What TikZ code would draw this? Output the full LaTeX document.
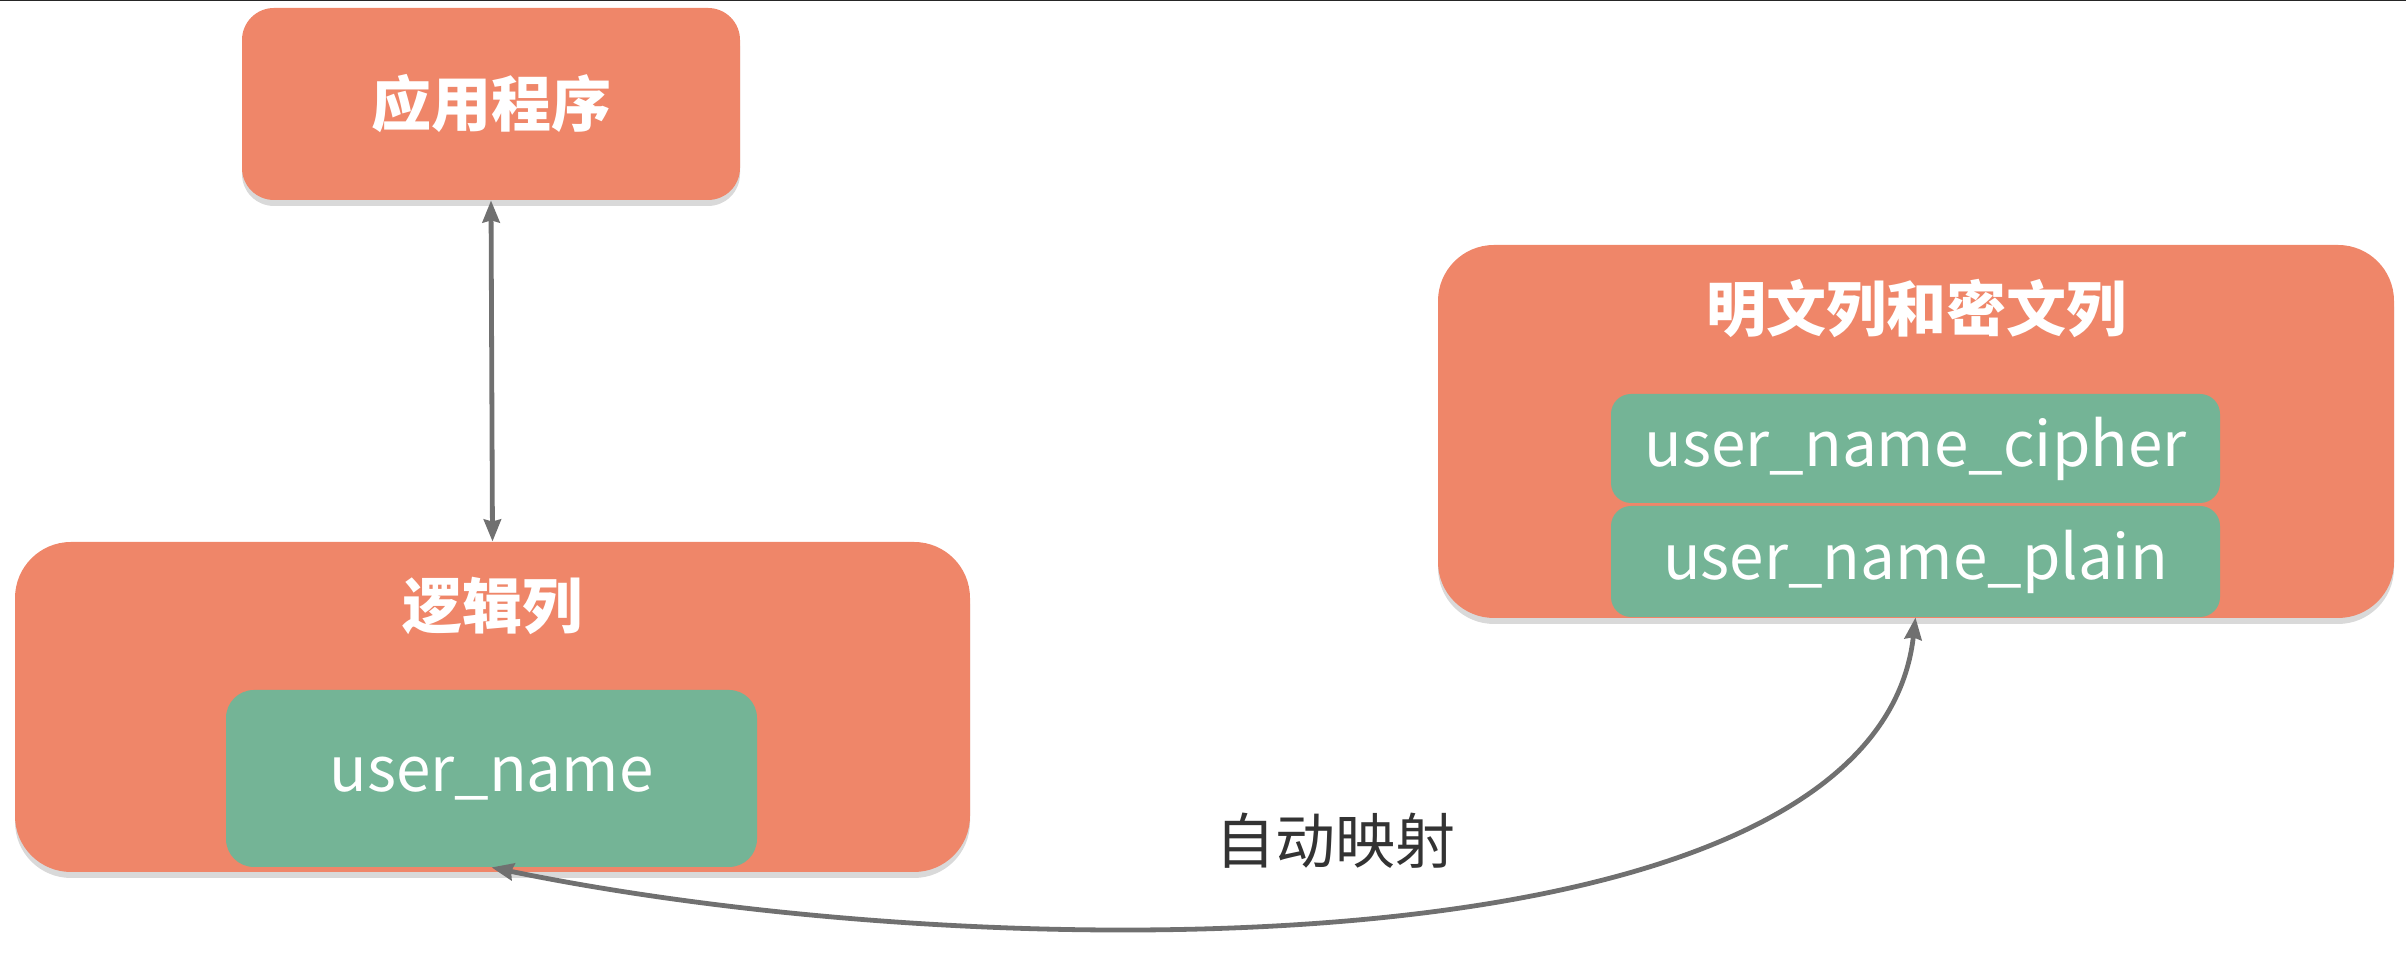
\documentclass[tikz,border=0pt]{standalone}
\usepackage{fontspec}
\setmainfont{Noto Sans CJK SC}
\usetikzlibrary{arrows.meta,calc,shadows}
\definecolor{boxorange}{HTML}{EF8669}
\definecolor{boxgreen}{HTML}{74B496}
\definecolor{linkgray}{HTML}{707070}
\definecolor{labelgray}{HTML}{333333}

\begin{document}
\begin{tikzpicture}[x=1pt,y=1pt]
% Sizes (1px = 0.5pt).

% This sets how the boxes look.
\tikzstyle{orangebox}=[fill=boxorange,inner sep=0pt,text=white,
font=\bfseries\fontsize{30}{34}\selectfont,
drop shadow={shadow xshift=0pt,shadow yshift=-3pt,opacity=0.3}]
\tikzstyle{fieldbox}=[fill=boxgreen,inner sep=0pt,text=white,
font=\fontsize{31}{35}\selectfont]
\tikzstyle{boxtitle}=[text=white,font=\bfseries\fontsize{30}{34}\selectfont]

% This sets how the arrows look.
\tikzstyle{link}=[draw=linkgray,line width=2.4pt,
arrows={Stealth[length=11pt,width=8.5pt,inset=1pt]-Stealth[length=11pt,width=8.5pt,inset=1pt]}]
\tikzstyle{maplink}=[draw=linkgray,line width=2.4pt,
arrows={Stealth[length=11pt,width=8.5pt,inset=1pt]-Stealth[length=11pt,width=8.5pt,inset=1pt]}]

\useasboundingbox (0,0) rectangle (1203,478);
\draw[line width=1.2pt,black!85] (0,478) -- (1203,478);

% This draws the application box.
\node[orangebox,rounded corners=16pt,minimum width=249pt,minimum height=96pt] (App) at (245.5,426) {应用程序};

% This draws the logical column with its field.
\node[orangebox,rounded corners=28pt,minimum width=477.5pt,minimum height=165pt] (Logic) at (246.25,124.5) {};
\node[boxtitle] (LogicTitle) at ($(Logic.north)-(0,32)$) {逻辑列};
\node[fieldbox,rounded corners=14pt,minimum width=265.5pt,minimum height=88.5pt] (UserName) at (245.75,88.75) {user\_name};

% This draws the plain and cipher columns.
\node[orangebox,rounded corners=28pt,minimum width=478pt,minimum height=186.5pt] (Phys) at (958,262.25) {};
\node[boxtitle] (PhysTitle) at ($(Phys.north)-(0,32)$) {明文列和密文列};
\node[fieldbox,rounded corners=10pt,minimum width=304.5pt,minimum height=54.5pt] (Cipher) at (957.75,253.75) {user\_name\_cipher};
\node[fieldbox,rounded corners=10pt,minimum width=304.5pt,minimum height=55.5pt] (Plain) at (957.75,197.25) {user\_name\_plain};

% This draws the links.
\draw[link] (App.south) -- (Logic.north);
\draw[maplink] (Plain.south) .. controls +(-20,-179) and +(250,-51.5) .. (UserName.south);
\node[text=labelgray,font=\fontsize{30}{34}\selectfont] (Map) at (667.5,57.5) {自动映射};

\end{tikzpicture}
\end{document}
